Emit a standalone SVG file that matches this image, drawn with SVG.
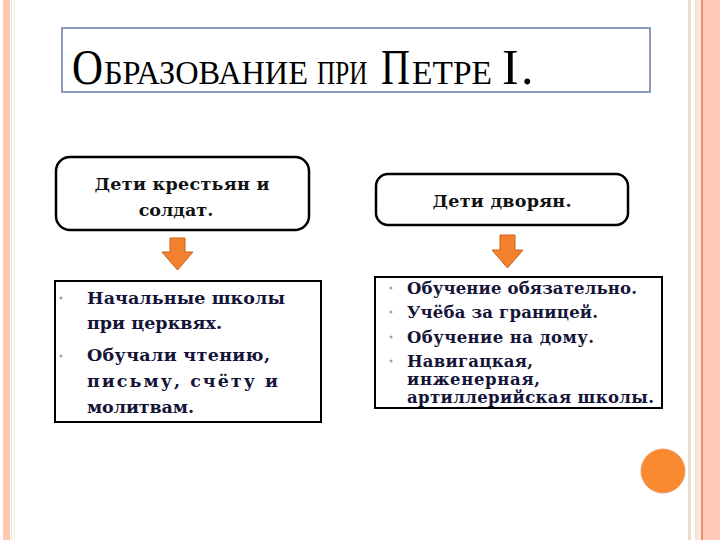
<svg xmlns="http://www.w3.org/2000/svg" width="720" height="540" viewBox="0 0 720 540">
<style>
.node{fill:#fff;stroke:#000;stroke-width:2.5}
.box{fill:#fff;stroke:#000;stroke-width:2}
.lbl{font-family:"DejaVu Serif","Liberation Serif",serif;font-weight:bold;font-size:17.5px;fill:#111}
.item{font-family:"DejaVu Serif","Liberation Serif",serif;font-weight:bold;font-size:17.5px;fill:#141438}
.item2{font-family:"DejaVu Serif","Liberation Serif",serif;font-weight:bold;font-size:16.5px;fill:#141438}
.bul{fill:#b0a080}
.arrow{fill:#f4812e;stroke:#c8601a;stroke-width:1}
.tb{font-family:"Liberation Serif","Times New Roman",serif;font-size:50px;fill:#000}
.ts{font-family:"Liberation Serif","Times New Roman",serif;font-size:34px;fill:#000}
</style>
<rect x="0" y="0" width="720" height="540" fill="#fff"/>
<g id="frame">
<rect x="3" y="0" width="7" height="540" fill="#ffc6b0"/>
<rect x="11" y="0" width="1" height="540" fill="#f4e0e0"/>
<rect x="14" y="0" width="1" height="540" fill="#f6efd8"/>
<rect x="688" y="0" width="3" height="540" fill="#f0dccc"/>
<rect x="695" y="0" width="2" height="540" fill="#f2e0d0"/>
<rect x="697" y="0" width="4" height="540" fill="#ffe8dc"/>
<rect x="701" y="0" width="2" height="540" fill="#ee9070"/>
<rect x="703" y="0" width="17" height="540" fill="#ffcbb8"/>
</g>
<g id="title">
<rect x="62" y="28" width="588" height="64" fill="#fff" stroke="#8a9ab8" stroke-width="2"/>
<text class="tb" x="72" y="84" textLength="31" lengthAdjust="spacingAndGlyphs">О</text>
<text class="ts" x="104" y="84" textLength="204" lengthAdjust="spacingAndGlyphs">БРАЗОВАНИЕ</text>
<text class="ts" transform="translate(317,84) scale(0.74,1)">ПРИ</text>
<text class="tb" x="381" y="84" textLength="29" lengthAdjust="spacingAndGlyphs">П</text>
<text class="ts" x="412" y="84" textLength="80" lengthAdjust="spacingAndGlyphs">ЕТРЕ</text>
<text class="tb" x="502" y="84">I</text>
<text class="tb" x="521" y="84">.</text>
</g>
<g id="node-peasants">
<rect class="node" x="56" y="157" width="253" height="73" rx="14"/>
<text class="lbl" x="182" y="190" text-anchor="middle" textLength="175" lengthAdjust="spacing">Дети крестьян и</text>
<text class="lbl" x="176" y="216" text-anchor="middle">солдат.</text>
</g>
<g id="node-nobles">
<rect class="node" x="376" y="174" width="252" height="51" rx="12"/>
<text class="lbl" x="502" y="207" text-anchor="middle" textLength="139" lengthAdjust="spacing">Дети дворян.</text>
</g>
<g id="connectors">
<path class="arrow" d="M170 238 H185 V252 H193 L177.5 270 L162 252 H170 Z"/>
<path class="arrow" d="M500 235 H515 V250 H523 L507.5 268 L492 250 H500 Z"/>
</g>
<g id="box-peasants">
<rect class="box" x="55" y="281" width="266" height="141"/>
<circle class="bul" cx="61" cy="298" r="1.5"/>
<circle class="bul" cx="61" cy="356" r="1.5"/>
<text class="item" x="87" y="304" textLength="198" lengthAdjust="spacing">Начальные школы</text>
<text class="item" x="87" y="329" textLength="135" lengthAdjust="spacing">при церквях.</text>
<text class="item" x="87" y="361" textLength="183" lengthAdjust="spacing">Обучали чтению,</text>
<text class="item" x="87" y="387" textLength="191" lengthAdjust="spacing">письму, счёту и</text>
<text class="item" x="87" y="413" textLength="107" lengthAdjust="spacing">молитвам.</text>
</g>
<g id="box-nobles">
<rect class="box" x="375" y="277" width="287" height="131"/>
<circle class="bul" cx="391" cy="288" r="1.5"/>
<circle class="bul" cx="391" cy="312" r="1.5"/>
<circle class="bul" cx="391" cy="337" r="1.5"/>
<circle class="bul" cx="391" cy="361" r="1.5"/>
<text class="item2" x="407" y="294" textLength="230" lengthAdjust="spacing">Обучение обязательно.</text>
<text class="item2" x="407" y="318" textLength="191" lengthAdjust="spacing">Учёба за границей.</text>
<text class="item2" x="407" y="343" textLength="187" lengthAdjust="spacing">Обучение на дому.</text>
<text class="item2" x="407" y="367" textLength="126" lengthAdjust="spacing">Навигацкая,</text>
<text class="item2" x="407" y="385" textLength="133" lengthAdjust="spacing">инженерная,</text>
<text class="item2" x="407" y="403" textLength="247" lengthAdjust="spacing">артиллерийская школы.</text>
</g>
<circle id="dot" cx="663" cy="471" r="22" fill="#f98a30" stroke="#e8a070" stroke-width="1"/>
</svg>
